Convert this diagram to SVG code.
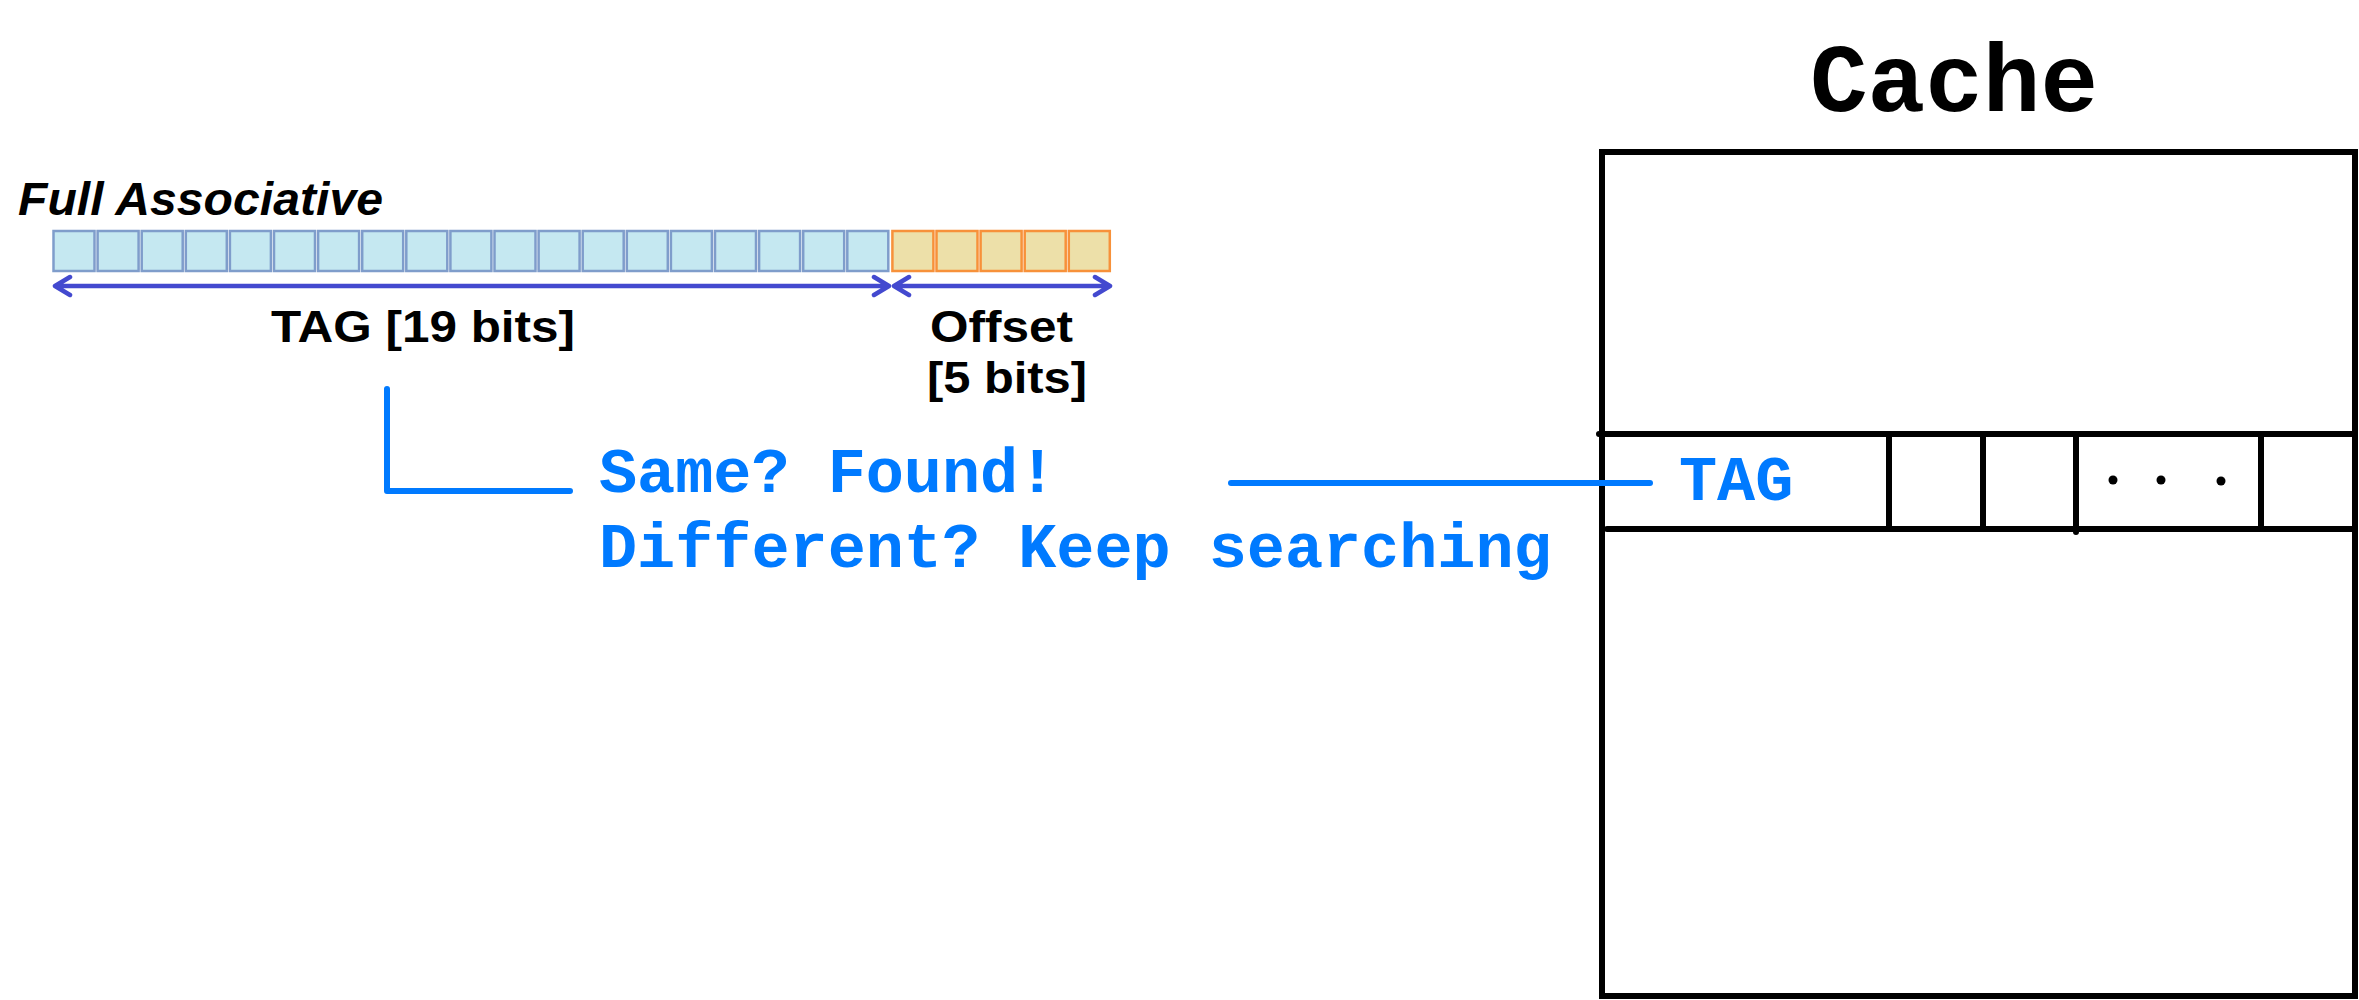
<svg xmlns="http://www.w3.org/2000/svg" width="2359" height="1000" viewBox="0 0 2359 1000">
  <defs>
    <style>
      .tagcell { fill: #C5E8F1; stroke: #7F9DCB; stroke-width: 2.5; }
      .offcell { fill: #EDE0A9; stroke: #F7913A; stroke-width: 2.5; }
      .dim { fill: none; stroke: #4349CF; stroke-width: 4.5; stroke-linecap: round; stroke-linejoin: round; }
      .lbl { font-family: "Liberation Sans", Arial, sans-serif; font-weight: bold; fill: #000; }
      .mono { font-family: "Liberation Mono", "Courier New", monospace; font-weight: bold; }
      .blue { fill: #007AFF; }
      .conn { fill: none; stroke: #007AFF; stroke-width: 6; stroke-linecap: round; stroke-linejoin: round; }
      .box { fill: none; stroke: #000; stroke-width: 6; stroke-linecap: round; }
    </style>
  </defs>

  <g id="address-layout">
    <text class="lbl" x="18" y="215" font-size="46" font-style="italic" textLength="365" lengthAdjust="spacingAndGlyphs">Full Associative</text>
    <g id="tag-bits">
      <rect class="tagcell" x="53.5" y="231" width="41" height="40"/>
      <rect class="tagcell" x="97.6" y="231" width="41" height="40"/>
      <rect class="tagcell" x="141.7" y="231" width="41" height="40"/>
      <rect class="tagcell" x="185.8" y="231" width="41" height="40"/>
      <rect class="tagcell" x="229.9" y="231" width="41" height="40"/>
      <rect class="tagcell" x="274" y="231" width="41" height="40"/>
      <rect class="tagcell" x="318.1" y="231" width="41" height="40"/>
      <rect class="tagcell" x="362.2" y="231" width="41" height="40"/>
      <rect class="tagcell" x="406.3" y="231" width="41" height="40"/>
      <rect class="tagcell" x="450.4" y="231" width="41" height="40"/>
      <rect class="tagcell" x="494.5" y="231" width="41" height="40"/>
      <rect class="tagcell" x="538.6" y="231" width="41" height="40"/>
      <rect class="tagcell" x="582.7" y="231" width="41" height="40"/>
      <rect class="tagcell" x="626.8" y="231" width="41" height="40"/>
      <rect class="tagcell" x="670.9" y="231" width="41" height="40"/>
      <rect class="tagcell" x="715" y="231" width="41" height="40"/>
      <rect class="tagcell" x="759.1" y="231" width="41" height="40"/>
      <rect class="tagcell" x="803.2" y="231" width="41" height="40"/>
      <rect class="tagcell" x="847.3" y="231" width="41" height="40"/>
    </g>
    <g id="offset-bits">
      <rect class="offcell" x="892.4" y="231" width="41" height="40"/>
      <rect class="offcell" x="936.5" y="231" width="41" height="40"/>
      <rect class="offcell" x="980.6" y="231" width="41" height="40"/>
      <rect class="offcell" x="1024.7" y="231" width="41" height="40"/>
      <rect class="offcell" x="1068.8" y="231" width="41" height="40"/>
    </g>
    <g id="tag-dimension">
      <path class="dim" d="M55,286 H889 M70,277 L55,286 L70,295 M874,277 L889,286 L874,295"/>
      <text class="lbl" x="271" y="342" font-size="45" textLength="304" lengthAdjust="spacingAndGlyphs">TAG [19 bits]</text>
    </g>
    <g id="offset-dimension">
      <path class="dim" d="M894,286 H1110 M909,277 L894,286 L909,295 M1095,277 L1110,286 L1095,295"/>
      <text class="lbl" x="930" y="342" font-size="45" textLength="143" lengthAdjust="spacingAndGlyphs">Offset</text>
      <text class="lbl" x="927" y="393" font-size="45" textLength="160" lengthAdjust="spacingAndGlyphs">[5 bits]</text>
    </g>
  </g>

  <g id="compare-note">
    <text class="mono blue" x="599" y="492" font-size="63.5">Same? Found!</text>
    <text class="mono blue" x="599" y="567" font-size="63.5">Different? Keep searching</text>
  </g>

  <g id="cache">
    <text class="mono" x="1810" y="111" font-size="96" fill="#000">Cache</text>
    <rect class="box" x="1602" y="152" width="753" height="844"/>
    <g id="cache-line">
      <path class="box" d="M1599,434 H2355 M1607,529 H2355 M1889,434 V529 M1983,434 V529 M2076,434 V532 M2261,434 V526"/>
      <text class="mono blue" x="1679" y="500" font-size="63.5">TAG</text>
      <circle cx="2113" cy="480" r="4.5" fill="#000"/>
      <circle cx="2161" cy="480" r="4.5" fill="#000"/>
      <circle cx="2221" cy="481" r="4.5" fill="#000"/>
    </g>
  </g>

  <g id="connectors">
    <path class="conn" d="M387,389 V491 H570"/>
    <path class="conn" d="M1231,483 H1650"/>
  </g>
</svg>
